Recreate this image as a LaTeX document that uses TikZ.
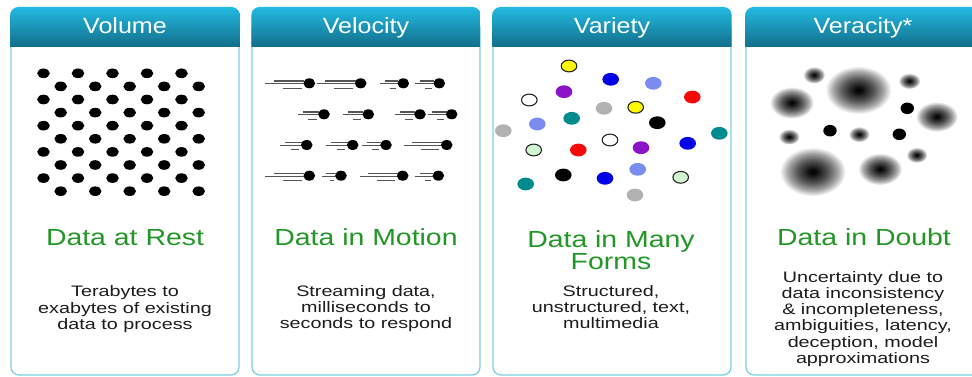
\documentclass[tikz,border=0pt]{standalone}
\usepackage{fontspec}
\setmainfont{Liberation Sans}
\newfontfamily\hdrfont[FakeStretch=1.14]{Liberation Sans}
\newfontfamily\grnfont[FakeStretch=1.22]{Liberation Sans}
\newfontfamily\bdyfont[FakeStretch=1.3]{Liberation Sans}
\definecolor{hdrtop}{RGB}{34,186,226}
\definecolor{hdrbot}{RGB}{18,110,138}
\definecolor{bordc}{RGB}{125,208,222}
\definecolor{grn}{RGB}{34,150,38}
\definecolor{txt}{RGB}{28,28,28}
\definecolor{trailc}{RGB}{85,85,85}
\definecolor{vyel}{RGB}{255,250,0}
\definecolor{vblue}{RGB}{0,0,230}
\definecolor{vlblue}{RGB}{122,140,240}
\definecolor{vpurp}{RGB}{140,20,200}
\definecolor{vred}{RGB}{245,10,10}
\definecolor{vgray}{RGB}{178,178,178}
\definecolor{vteal}{RGB}{0,140,140}
\definecolor{vlgrn}{RGB}{208,245,208}
\pgfdeclareradialshading{blob}{\pgfpoint{0bp}{0bp}}{color(0bp)=(black); color(3bp)=(black!94); color(12bp)=(black!65); color(19bp)=(black!35); color(25bp)=(white); color(50bp)=(white)}
\newcommand{\mypanel}[4]{%
  \draw[bordc, line width=1.3pt, fill=white, rounded corners=8pt] (#1,20) rectangle (#2,375);
  \shade[top color=hdrtop, bottom color=hdrbot] (#1-0.65,47) -- (#1-0.65,15) arc[start angle=180, end angle=90, radius=8pt] -- (#2-7.35,7) arc[start angle=90, end angle=0, radius=8pt] -- (#2+0.65,47) -- cycle;
  \node[hdr] (#4) at ({(#1+#2)/2},34) {#3};
}
\newcommand{\trail}[3]{%
  \draw[trailc, line width=1.1pt] (#1-#3,#2+0.5) -- (#1-5,#2+0.5);
  \draw[trailc, line width=1.1pt] (#1-0.81*#3,#2-2.3) -- (#1-5,#2-2.3);
  \draw[trailc, line width=1.1pt] (#1-0.6*#3,#2+4.8) -- (#1-7.5,#2+4.8);
  \fill[black] (#1,#2) ellipse [x radius=5.8pt, y radius=5pt];
}
\begin{document}
\begin{tikzpicture}[x=1pt,y=-1pt,
  hdr/.style={font=\hdrfont\fontsize{22}{26}\selectfont, text=white, anchor=base, inner sep=0pt},
  grnt/.style={font=\grnfont\fontsize{23.3}{21.5}\selectfont, text=grn, anchor=base, align=center, inner sep=0pt},
  bodyt/.style={font=\bdyfont\fontsize{15.2}{16.2}\selectfont, text=txt, anchor=base, align=center, inner sep=0pt},
  ring/.style={draw=black!85, line width=1.1pt}]
\useasboundingbox (0,0) rectangle (972,377);
\fill[white] (0,0) rectangle (972,377);

\mypanel{11}{239}{Volume}{h1}
\mypanel{252}{480}{Velocity}{h2}
\mypanel{493}{731}{Variety}{h3}
\mypanel{746}{980}{Veracity*}{h4}

% Volume dots
\foreach \r in {0,...,9}{
  \pgfmathsetmacro{\yy}{73.3+13.1*\r}
  \pgfmathsetmacro{\xs}{mod(\r,2)==0 ? 43.5 : 60.7}
  \foreach \c in {0,...,4}{
    \fill[black] ({\xs+34.5*\c},\yy) ellipse [x radius=6.3pt, y radius=4.8pt];
  }
}

% Velocity trails
\trail{309.3}{83.3}{44}\trail{360.7}{83.3}{44}\trail{403.3}{83.3}{23}\trail{439.3}{83.3}{24}
\trail{324}{114.3}{26}\trail{368.3}{114.3}{25}\trail{420}{114.3}{25}\trail{451.7}{114.3}{24}
\trail{306.7}{145}{27}\trail{352.7}{145}{27}\trail{386}{145}{24}\trail{446.7}{145}{43}
\trail{309.3}{175.7}{44}\trail{341}{175.7}{19}\trail{402.7}{175.7}{43}\trail{438.3}{175.7}{23}

% Variety
\foreach \x/\y/\c/\o in {
  569/66/vyel/1, 610.7/79.3/vblue/0, 653.3/83.3/vlblue/0, 564/91.7/vpurp/0,
  529.3/100/white/1, 692.3/97/vred/0, 604/108.3/vgray/0, 635.7/107.3/vyel/1,
  571.7/118.3/vteal/0, 537.3/124/vlblue/0, 657.3/122.7/black/0, 503.3/130.7/vgray/0,
  719.3/133.3/vteal/0, 610/140/white/1, 533.7/150/vlgrn/1, 578.3/150/vred/0,
  641/147.7/vpurp/0, 687.7/143.3/vblue/0, 563.3/175/black/0, 637.7/169.3/vlblue/0,
  605/178.3/vblue/0, 680.7/177.3/vlgrn/1, 525.7/184/vteal/0, 635/195/vgray/0}{
  \ifnum\o=1
    \filldraw[fill=\c, ring] (\x,\y) ellipse [x radius=7.8pt, y radius=5.9pt];
  \else
    \fill[\c] (\x,\y) ellipse [x radius=8.3pt, y radius=6.4pt];
  \fi
}

% Veracity
\foreach \x/\y/\rx/\ry in {
  814/75/11/8.5, 858.3/90/33/24, 909.3/81/11/8, 791.7/102.7/22/16,
  936.7/116.7/21/15, 789/136.7/10.5/7.8, 859/134.3/10.5/7.8, 916.7/155/10.5/7.8,
  812.7/171.7/33/24.5, 880/169/22/16}{
  \shade[shading=blob] (\x,\y) ellipse [x radius=\rx pt, y radius=\ry pt];
}
\foreach \x/\y in {907.3/108.3, 830/130.7, 899.3/134.3}{
  \fill[black] (\x,\y) ellipse [x radius=6.7pt, y radius=5.8pt];
}

% Green headings (anchor = baseline of last line)
\node[grnt] (g1) at (125,245) {Data at Rest};
\node[grnt] (g2) at (366,245) {Data in Motion};
\node[grnt] (g3) at (611,269) {Data in Many\\Forms};
\node[grnt] (g4) at (864,245) {Data in Doubt};

% Descriptions (anchor = baseline of last line)
\node[bodyt] (d1) at (125,329.3) {Terabytes to\\exabytes of existing\\data to process};
\node[bodyt] (d2) at (366,328.5) {Streaming data,\\milliseconds to\\seconds to respond};
\node[bodyt] (d3) at (611,328.5) {Structured,\\unstructured, text,\\multimedia};
\node[bodyt] (d4) at (863,363.3) {Uncertainty due to\\data inconsistency\\\& incompleteness,\\ambiguities, latency,\\deception, model\\approximations};
\end{tikzpicture}
\end{document}
